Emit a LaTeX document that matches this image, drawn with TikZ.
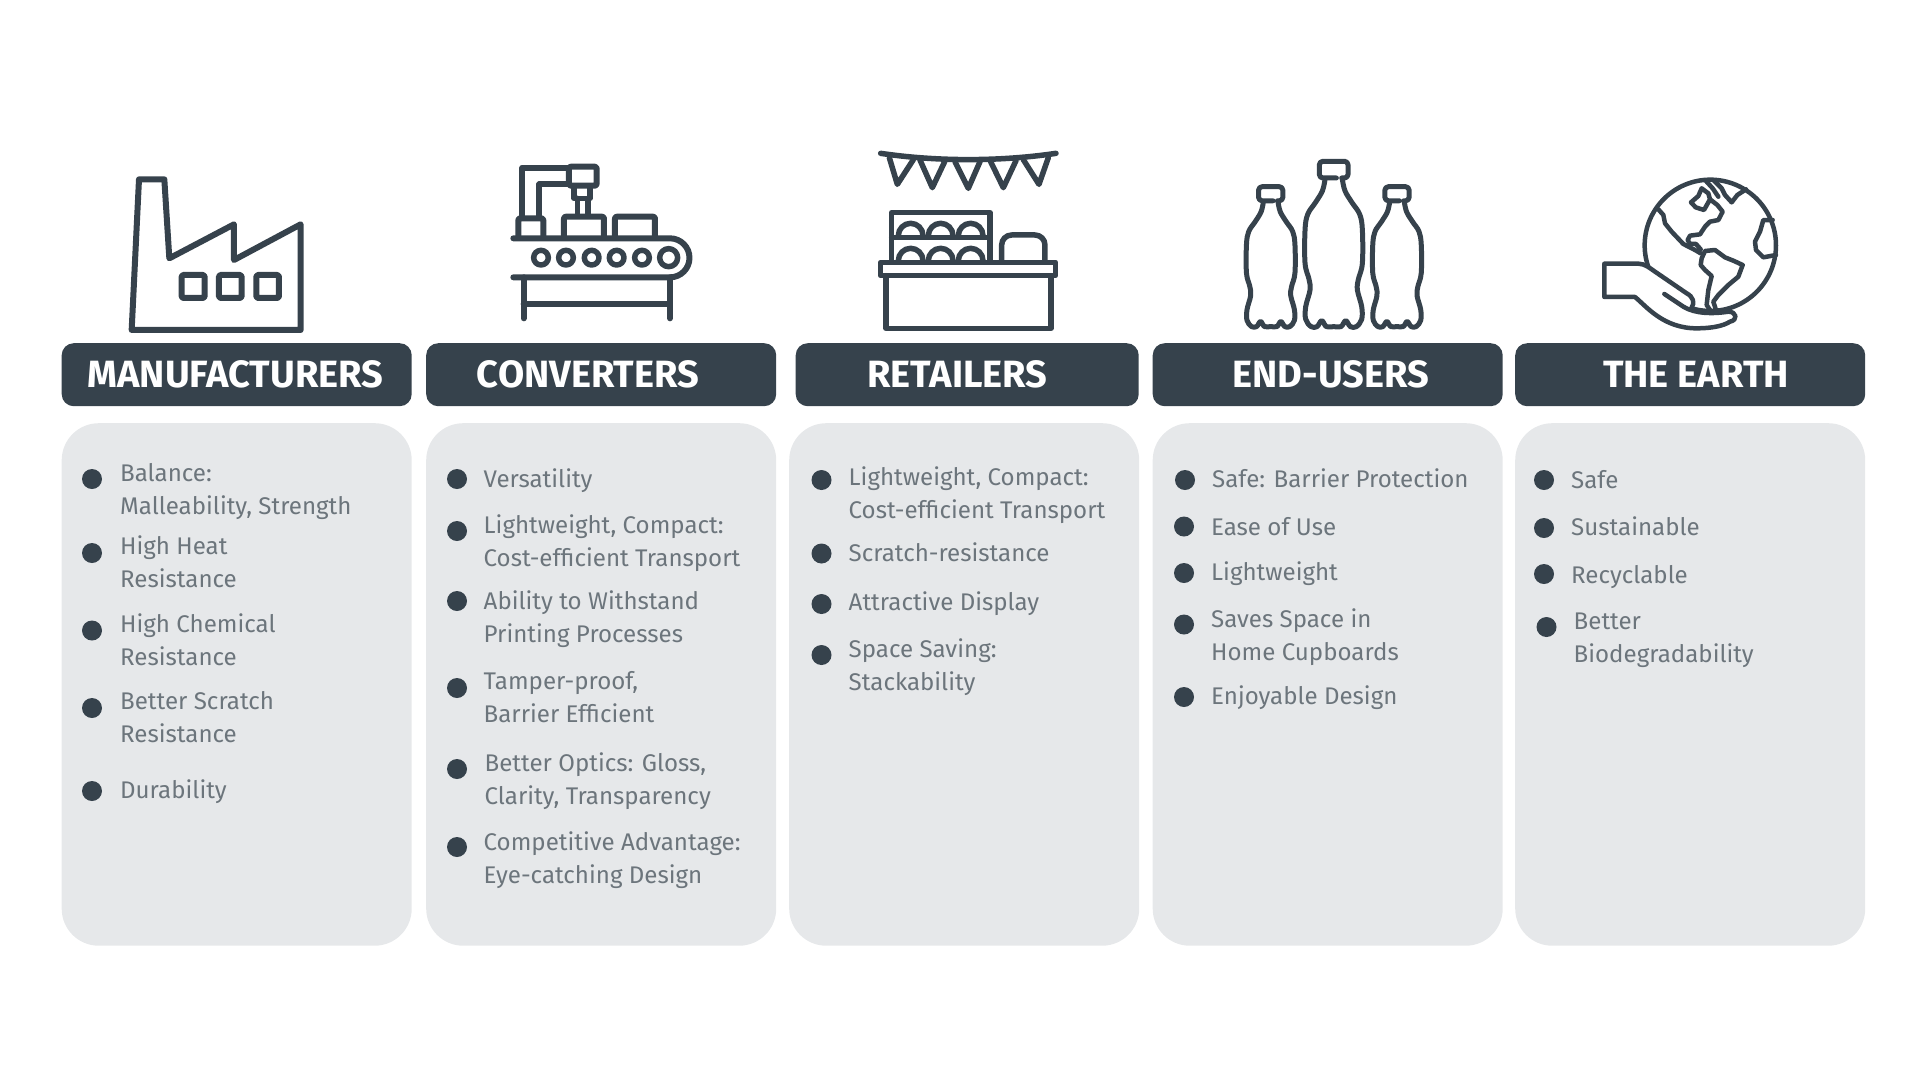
\documentclass[tikz,border=0pt]{standalone}
\usepackage{fontspec}
\setmainfont{Fira Sans}
\definecolor{ink}{HTML}{36424C}
\definecolor{cardgray}{HTML}{E6E8EA}
\definecolor{itemgray}{HTML}{6C757C}
\tikzset{
  cardbox/.style={anchor=north west, fill=cardgray, rounded corners=37pt, minimum width=350pt, minimum height=522.5pt, inner sep=0pt},
  headbox/.style={anchor=north west, fill=ink, rounded corners=12pt, minimum height=63pt, inner sep=0pt},
  headtext/.style={text=white, font=\fontsize{38}{42}\selectfont\bfseries, inner sep=0pt},
  itemtext/.style={anchor=north west, align=left, text=itemgray, inner sep=0pt, font=\fontsize{24.1}{33}\selectfont, execute at begin node=\strut},
  bulletdot/.style={circle, fill=ink, minimum size=20pt, inner sep=0pt},
  iconline/.style={draw=ink, line width=6pt, line join=round, line cap=round},
  thinline/.style={draw=ink, line width=5pt, line join=round, line cap=round},
}
\newcommand{\drinkbottle}[3]{
  \begin{scope}[shift={(#1,#2)}, scale=#3]
    \draw[thinline, rounded corners=3.5pt] (8,56) -- (-43,56) -- (-43,6) -- (43,6) -- (43,56) -- (24,56);
    \draw[thinline] plot[smooth, tension=0.6] coordinates {(-26,60) (-34,95) (-55,130) (-78,165) (-86,212) (-86,312) (-74,360) (-71,392) (-84,442) (-84,480) (-68,502) (-50,502) (-36,484) (-22,502) (0,502) (22,502) (36,484) (50,502) (68,502) (84,480) (84,442) (71,392) (74,360) (86,312) (86,212) (78,165) (55,130) (34,95) (26,60)};
  \end{scope}
}
\begin{document}
\begin{tikzpicture}[x=1pt,y=-1pt]
  \useasboundingbox (0,0) rectangle (1920,1080);
  % cards
  \node[cardbox] (card1) at (61.5,423) {};
  \node[cardbox] (card2) at (426,423) {};
  \node[cardbox] (card3) at (789,423) {};
  \node[cardbox] (card4) at (1152.5,423) {};
  \node[cardbox] (card5) at (1515,423) {};
  % headers
  \node[headbox, minimum width=350pt] (bar1) at (61.5,343) {};
  \node[headbox, minimum width=350pt] (bar2) at (426,343) {};
  \node[headbox, minimum width=343pt] (bar3) at (795.5,343) {};
  \node[headbox, minimum width=350pt] (bar4) at (1152.5,343) {};
  \node[headbox, minimum width=350pt] (bar5) at (1515,343) {};
  \node[headtext] (head1) at (235.5,374) {MANUFACTURERS};
  \node[headtext] (head2) at (588,374) {CONVERTERS};
  \node[headtext] (head3) at (957.5,374) {RETAILERS};
  \node[headtext] (head4) at (1331,374) {END-USERS};
  \node[headtext] (head5) at (1696,374) {THE EARTH};
  % manufacturers
  \node[bulletdot] (mdot1) at (92,479) {};
  \node[itemtext] (mitem1) at (120,463) {Balance:\\Malleability, Strength};
  \node[bulletdot] (mdot2) at (92,553) {};
  \node[itemtext] (mitem2) at (120,535.5) {High Heat\\Resistance};
  \node[bulletdot] (mdot3) at (92,630.5) {};
  \node[itemtext] (mitem3) at (120,613) {High Chemical\\Resistance};
  \node[bulletdot] (mdot4) at (92,708) {};
  \node[itemtext] (mitem4) at (120,691.5) {Better Scratch\\Resistance};
  \node[bulletdot] (mdot5) at (92,791) {};
  \node[itemtext] (mitem5) at (120,775.2) {Durability};
  % converters
  \node[bulletdot] (cdot1) at (457,479) {};
  \node[itemtext] (citem1) at (483.5,464.2) {Versatility};
  \node[bulletdot] (cdot2) at (457,531) {};
  \node[itemtext] (citem2) at (483.5,514.5) {Lightweight, Compact:\\Cost-efficient Transport};
  \node[bulletdot] (cdot3) at (457,601) {};
  \node[itemtext] (citem3) at (483.5,590.5) {Ability to Withstand\\Printing Processes};
  \node[bulletdot] (cdot4) at (457,688) {};
  \node[itemtext] (citem4) at (483.5,671) {Tamper-proof,\\Barrier Efficient};
  \node[bulletdot] (cdot5) at (457,769) {};
  \node[itemtext] (citem5) at (484.5,752) {Better Optics: Gloss,\\Clarity, Transparency};
  \node[bulletdot] (cdot6) at (457,847) {};
  \node[itemtext] (citem6) at (483.5,831) {Competitive Advantage:\\Eye-catching Design};
  % retailers
  \node[bulletdot] (rdot1) at (821.5,480) {};
  \node[itemtext] (ritem1) at (848.5,466) {Lightweight, Compact:\\Cost-efficient Transport};
  \node[bulletdot] (rdot2) at (821.5,553.5) {};
  \node[itemtext] (ritem2) at (848.5,538) {Scratch-resistance};
  \node[bulletdot] (rdot3) at (821.5,604) {};
  \node[itemtext] (ritem3) at (848.5,587.2) {Attractive Display};
  \node[bulletdot] (rdot4) at (821.5,655) {};
  \node[itemtext] (ritem4) at (848.5,638.5) {Space Saving:\\Stackability};
  % end-users
  \node[bulletdot] (edot1) at (1185,480) {};
  \node[itemtext] (eitem1) at (1212,464.5) {Safe: Barrier Protection};
  \node[bulletdot] (edot2) at (1184,526.5) {};
  \node[itemtext] (eitem2) at (1211,512.2) {Ease of Use};
  \node[bulletdot] (edot3) at (1184,573) {};
  \node[itemtext] (eitem3) at (1211,557.2) {Lightweight};
  \node[bulletdot] (edot4) at (1184,624.5) {};
  \node[itemtext] (eitem4) at (1211,608) {Saves Space in\\Home Cupboards};
  \node[bulletdot] (edot5) at (1184,697) {};
  \node[itemtext] (eitem5) at (1211,681.2) {Enjoyable Design};
  % the earth
  \node[bulletdot] (tdot1) at (1544,480) {};
  \node[itemtext] (titem1) at (1571,465) {Safe};
  \node[bulletdot] (tdot2) at (1544,528) {};
  \node[itemtext] (titem2) at (1571,512.2) {Sustainable};
  \node[bulletdot] (tdot3) at (1544,574) {};
  \node[itemtext] (titem3) at (1571,560.2) {Recyclable};
  \node[bulletdot] (tdot4) at (1546.5,627) {};
  \node[itemtext] (titem4) at (1573.5,612.5) {Better\\Biodegradability};
  % factory
  \begin{scope}[shift={(120,165)}, scale=0.3333]
    \draw[iconline] (35,495) -- (57,43) -- (133,43) -- (148,280) -- (342,178) -- (342,285) -- (542,178) -- (542,495) -- cycle;
    \draw[iconline, rounded corners=1.5pt] (185,330) rectangle (254,399);
    \draw[iconline, rounded corners=1.5pt] (297,330) rectangle (365,399);
    \draw[iconline, rounded corners=1.5pt] (409,330) rectangle (477,399);
  \end{scope}
  % conveyor
  \begin{scope}[shift={(500,155)}, scale=0.3333]
    \draw[iconline] (67,185) -- (67,38) -- (205,38);
    \draw[iconline] (118,185) -- (118,88) -- (205,88);
    \draw[iconline, rounded corners=2pt] (207,35) rectangle (290,92);
    \draw[iconline, line width=5.5pt] (222,95) -- (222,130) -- (270,130) -- (270,95);
    \draw[iconline, line width=5.5pt] (232,130) -- (232,180) (264,130) -- (264,180);
    \draw[iconline, rounded corners=2pt] (55,245) -- (55,190) -- (130,190) -- (130,245);
    \draw[iconline, rounded corners=2pt] (192,245) -- (192,185) -- (312,185) -- (312,245);
    \draw[iconline, rounded corners=2pt] (345,245) -- (345,185) -- (465,185) -- (465,245);
    \draw[iconline] (40,250) -- (510,250) arc[start angle=-90, end angle=90, radius=58.5] -- (40,367);
    \foreach \rollerx in {123,198,275,350,426}
      \draw[iconline, line width=5.5pt] (\rollerx,308) circle[radius=22];
    \draw[iconline, line width=5.5pt] (506,308) circle[radius=27];
    \draw[iconline] (71,367) -- (71,490) (510,367) -- (510,490);
    \draw[iconline] (71,448) -- (510,448);
  \end{scope}
  % stall
  \begin{scope}[shift={(870,145)}, scale=0.3333]
    \draw[iconline, line width=5.5pt] (32,25) .. controls (200,50) and (390,50) .. (558,25);
    \draw[iconline, line width=5.5pt] (58,38) -- (82,118) -- (130,44);
    \draw[iconline, line width=5.5pt] (150,45) -- (187,128) -- (225,48);
    \draw[iconline, line width=5.5pt] (255,50) -- (295,130) -- (330,50);
    \draw[iconline, line width=5.5pt] (362,50) -- (400,128) -- (438,47);
    \draw[iconline, line width=5.5pt] (460,44) -- (507,118) -- (535,38);
    \draw[iconline, line width=5.5pt] (48,392) -- (48,550) -- (543,550) -- (543,392);
    \draw[iconline, line width=5.5pt] (32,352) rectangle (557,392);
    \draw[iconline, line width=5.5pt] (65,350) -- (65,203) -- (360,203) -- (360,350) (65,277) -- (360,277);
    \foreach \domex in {122,212,302} {
      \draw[iconline, line width=5.5pt, line cap=butt] (\domex-37,272) arc[start angle=180, end angle=360, radius=37];
      \draw[iconline, line width=5.5pt, line cap=butt] (\domex-37,347) arc[start angle=180, end angle=360, radius=37];
    }
    \draw[iconline, line width=5.5pt, rounded corners=10pt] (395,350) -- (395,270) -- (525,270) -- (525,350);
  \end{scope}
  % bottles
  \drinkbottle{1333.7}{159.3}{0.3333}
  \drinkbottle{1270.7}{185}{0.282}
  \drinkbottle{1397}{185}{0.282}
  % globe and hand
  \begin{scope}[shift={(1630,170)}, scale=0.3333]
    \draw[thinline, line width=4.5pt] (241,226) circle[radius=197];
    \draw[thinline, line width=4.5pt] (85,118) -- (100,135) -- (105,160) -- (125,185) -- (160,222) -- (195,240) -- (212,250);
    \draw[thinline, line width=4.5pt] (212,238) -- (198,222) -- (180,222) -- (173,210) -- (180,197) -- (210,193) -- (225,170) -- (240,155) -- (265,150) -- (278,125) -- (262,105) -- (240,88) -- (222,120) -- (197,112) -- (183,97) -- (205,78) -- (215,55) -- (235,70) -- (240,88);
    \draw[thinline, line width=4.5pt] (228,33) -- (248,55) -- (265,80);
    \draw[thinline, line width=4.5pt] (250,30) -- (275,55) -- (285,75) -- (305,97) -- (322,75) -- (348,58);
    \draw[thinline, line width=4.5pt] (240,420) -- (230,405) -- (235,360) -- (245,318) -- (225,300) -- (212,285) -- (215,265) -- (225,243) -- (255,240) -- (285,262) -- (310,272) -- (338,285) -- (325,320) -- (295,345) -- (265,375) -- (250,395) -- (258,420);
    \draw[thinline, line width=4.5pt] (428,150) -- (400,150) -- (390,185) -- (375,215) -- (378,240) -- (400,262) -- (438,255);
    \fill[white] (-77,281) -- (25,281) .. controls (45,281) and (60,295) .. (75,305) -- (170,370) .. controls (195,385) and (190,410) .. (185,425) -- (300,423) .. controls (320,430) and (325,450) .. (300,455) .. controls (250,478) and (190,470) .. (120,460) .. controls (80,440) and (50,410) .. (15,381) -- (-77,381) -- cycle;
    \draw[thinline, line width=4.5pt] (185,412) .. controls (195,400) and (190,380) .. (170,370) -- (75,305) .. controls (60,295) and (45,281) .. (25,281) -- (-77,281) -- (-77,381) -- (15,381) .. controls (50,410) and (100,475) .. (200,475) .. controls (245,475) and (280,468) .. (300,455) .. controls (325,450) and (320,425) .. (295,425) .. controls (250,432) and (195,432) .. (160,410) -- (103,372);
  \end{scope}
\end{tikzpicture}
\end{document}
